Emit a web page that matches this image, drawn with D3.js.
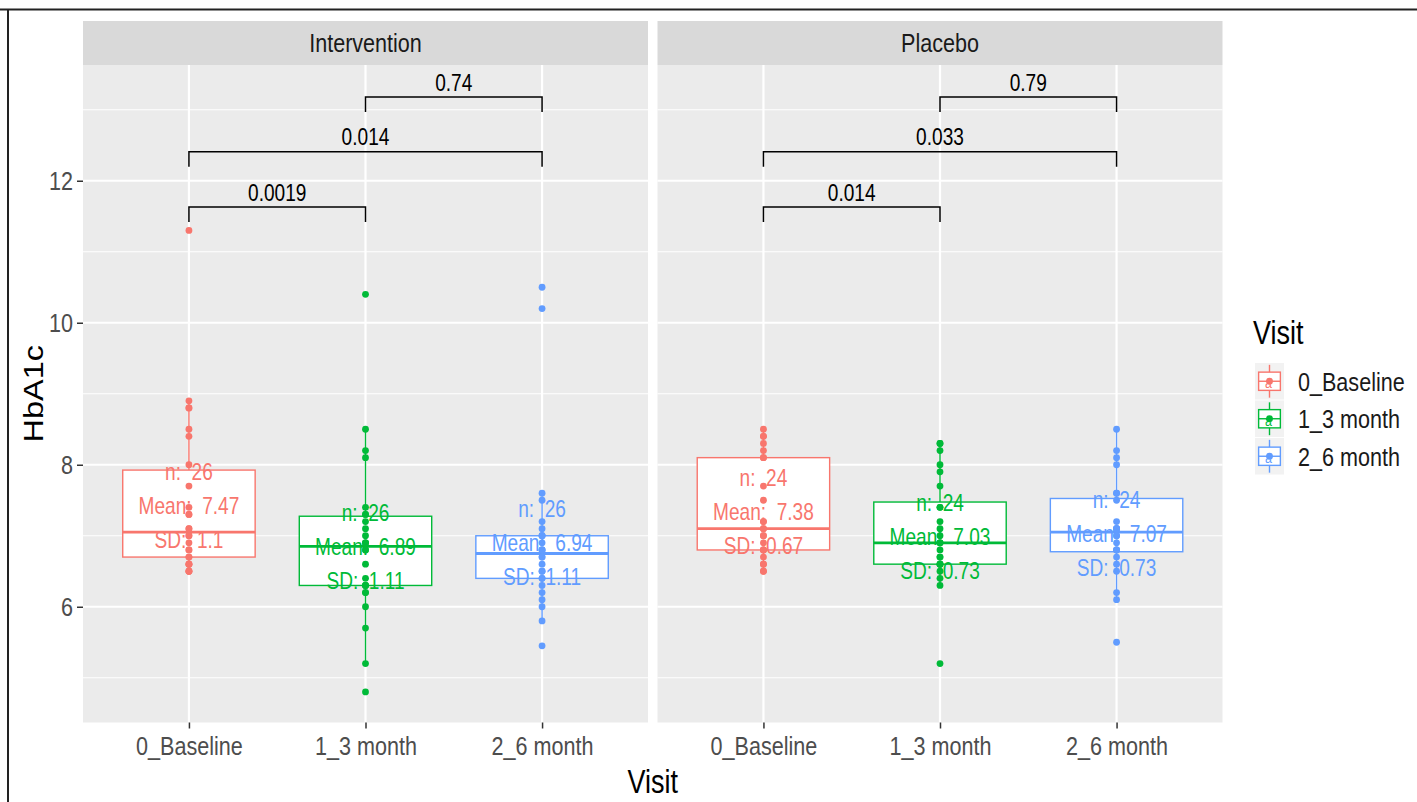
<!DOCTYPE html>
<html>
<head>
<meta charset="utf-8">
<script src="https://cdn.jsdelivr.net/npm/d3@7"></script>
<style>
  body { margin: 0; background: #fff; }
  text { font-family: 'Liberation Sans', Arial, sans-serif; }
</style>
</head>
<body>
<svg id="chart" width="1417" height="802"></svg>
<script>
// Data
const groups = ["Intervention", "Placebo"];
const visits = ["0_Baseline", "1_3 month", "2_6 month"];
const visitColors = ["#F8766D", "#00BA38", "#619CFF"];

const intBaseline = [11.3, 8.9, 8.8, 8.8, 8.5, 8.4, 8.0, 7.7, 7.4, 7.3, 7.3, 7.1, 7.1, 7.0, 7.0, 6.9, 6.8, 6.8, 6.7, 6.7, 6.6, 6.6, 6.6, 6.5, 6.5, 6.5];
const int3month  = [10.4, 8.5, 8.2, 8.1, 7.4, 7.3, 7.3, 7.2, 7.1, 7.0, 6.9, 6.9, 6.9, 6.8, 6.8, 6.6, 6.4, 6.3, 6.3, 6.3, 6.2, 6.2, 6.0, 5.7, 5.2, 4.8];
const int6month  = [10.5, 10.2, 7.6, 7.5, 7.2, 7.1, 7.0, 7.0, 7.0, 6.9, 6.8, 6.8, 6.8, 6.7, 6.7, 6.6, 6.5, 6.5, 6.4, 6.4, 6.3, 6.2, 6.1, 6.0, 5.8, 5.45];
const plaBaseline = [8.5, 8.4, 8.4, 8.3, 8.2, 8.1, 8.1, 7.7, 7.5, 7.2, 7.2, 7.1, 7.1, 7.0, 7.0, 6.9, 6.8, 6.8, 6.8, 6.7, 6.6, 6.6, 6.5, 6.5];
const pla3month  = [8.3, 8.3, 8.2, 8.0, 7.9, 7.7, 7.4, 7.4, 7.2, 7.1, 7.0, 6.9, 6.9, 6.9, 6.8, 6.7, 6.7, 6.6, 6.6, 6.6, 6.5, 6.4, 6.3, 5.2];
const pla6month  = [8.5, 8.2, 8.1, 8.0, 7.6, 7.6, 7.5, 7.2, 7.1, 7.1, 7.1, 7.1, 7.0, 7.0, 6.9, 6.8, 6.8, 6.8, 6.7, 6.6, 6.5, 6.2, 6.1, 5.5];

const nLabels    = [["26", "26", "26"], ["24", "24", "24"]];
const meanLabels = [["7.47", "6.89", "6.94"], ["7.38", "7.03", "7.07"]];
const sdLabels   = [["1.1", "1.11", "1.11"], ["0.67", "0.73", "0.73"]];

// comparison brackets (same layout in both panels)
const bracketFrom = [0, 0, 1];
const bracketTo   = [1, 2, 2];
const bracketY    = [11.63, 12.41, 13.18];
const pIntervention = ["0.0019", "0.014", "0.74"];
const pPlacebo      = ["0.014", "0.033", "0.79"];

const seriesByGroup = [[intBaseline, int3month, int6month], [plaBaseline, pla3month, pla6month]];
const pByGroup = [pIntervention, pPlacebo];

// Layout
const SX = 0.83;               // the reference text is horizontally condensed
const panelX = [83, 657.5];
const panelW = 565;
const panelTop = 65, panelBottom = 722.5, stripTop = 21;

const svg = d3.select("#chart");
svg.append("rect").attr("width", 1417).attr("height", 802).attr("fill", "#fff");

// frame lines of the screenshot
svg.append("line").attr("x1", 0).attr("x2", 1417).attr("y1", 9.5).attr("y2", 9.5)
  .attr("stroke", "#222").attr("stroke-width", 2);
svg.append("line").attr("x1", 8).attr("x2", 8).attr("y1", 9).attr("y2", 802)
  .attr("stroke", "#222").attr("stroke-width", 2);

const y = d3.scaleLinear().domain([4.37, 13.63]).range([panelBottom, panelTop]);
const majorY = y.ticks(5);
const minorY = y.ticks(10).filter(t => !majorY.includes(t));
const color = d3.scaleOrdinal().domain(visits).range(visitColors);

// helper for condensed text
function squeezedText(parent, x, yy, str, size, fill, anchor) {
  return parent.append("text")
    .attr("transform", `translate(${x},${yy}) scale(${SX},1)`)
    .attr("text-anchor", anchor || "middle")
    .attr("font-size", size)
    .attr("fill", fill)
    .style("white-space", "pre")
    .text(str);
}

function boxStats(vals) {
  const s = vals.slice().sort(d3.ascending);
  const q1 = d3.quantile(s, 0.25), med = d3.quantile(s, 0.5), q3 = d3.quantile(s, 0.75);
  const iqr = q3 - q1;
  const lo = d3.min(s.filter(v => v >= q1 - 1.5 * iqr - 1e-9));
  const hi = d3.max(s.filter(v => v <= q3 + 1.5 * iqr + 1e-9));
  return {q1, med, q3, lo, hi};
}

groups.forEach((grp, gi) => {
  const px = panelX[gi];
  const x = d3.scalePoint().domain(visits).range([px, px + panelW]).padding(0.6);
  const boxW = x.step() * 0.75;
  const g = svg.append("g");

  // panel background + grid
  g.append("rect").attr("x", px).attr("y", panelTop).attr("width", panelW)
    .attr("height", panelBottom - panelTop).attr("fill", "#EBEBEB");
  g.selectAll(".minor").data(minorY).enter().append("line")
    .attr("x1", px).attr("x2", px + panelW).attr("y1", d => y(d)).attr("y2", d => y(d))
    .attr("stroke", "#fff").attr("stroke-width", 1.1);
  g.selectAll(".major").data(majorY).enter().append("line")
    .attr("x1", px).attr("x2", px + panelW).attr("y1", d => y(d)).attr("y2", d => y(d))
    .attr("stroke", "#fff").attr("stroke-width", 2.2);
  g.selectAll(".vgrid").data(visits).enter().append("line")
    .attr("x1", d => x(d)).attr("x2", d => x(d)).attr("y1", panelTop).attr("y2", panelBottom)
    .attr("stroke", "#fff").attr("stroke-width", 2.2);

  // strip
  g.append("rect").attr("x", px).attr("y", stripTop).attr("width", panelW)
    .attr("height", panelTop - stripTop).attr("fill", "#D9D9D9");
  squeezedText(g, px + panelW / 2, (stripTop + panelTop) / 2 + 0.358 * 26, grp, 26, "#1A1A1A");

  // boxplots
  visits.forEach((v, vi) => {
    const vals = seriesByGroup[gi][vi];
    const st = boxStats(vals);
    const cx = x(v), col = color(v);
    g.append("line").attr("x1", cx).attr("x2", cx).attr("y1", y(st.q3)).attr("y2", y(st.hi))
      .attr("stroke", col).attr("stroke-width", 1.4);
    g.append("line").attr("x1", cx).attr("x2", cx).attr("y1", y(st.q1)).attr("y2", y(st.lo))
      .attr("stroke", col).attr("stroke-width", 1.4);
    g.append("rect").attr("x", cx - boxW / 2).attr("width", boxW)
      .attr("y", y(st.q3)).attr("height", y(st.q1) - y(st.q3))
      .attr("fill", "#fff").attr("stroke", col).attr("stroke-width", 1.4);
    g.append("line").attr("x1", cx - boxW / 2).attr("x2", cx + boxW / 2)
      .attr("y1", y(st.med)).attr("y2", y(st.med))
      .attr("stroke", col).attr("stroke-width", 2.8);
  });

  // points
  visits.forEach((v, vi) => {
    g.selectAll(null).data(seriesByGroup[gi][vi]).enter().append("circle")
      .attr("cx", x(v)).attr("cy", d => y(d)).attr("r", 3.4).attr("fill", color(v));
  });

  // n / mean / sd labels
  visits.forEach((v, vi) => {
    const mid = y(+meanLabels[gi][vi]) + 3 + 0.358 * 23;
    squeezedText(g, x(v), mid - 34, "n:  " + nLabels[gi][vi], 23, color(v));
    squeezedText(g, x(v), mid, "Mean:  " + meanLabels[gi][vi], 23, color(v));
    squeezedText(g, x(v), mid + 34, "SD:  " + sdLabels[gi][vi], 23, color(v));
  });

  // brackets with p-values
  bracketY.forEach((b, bi) => {
    const x1 = x(visits[bracketFrom[bi]]), x2 = x(visits[bracketTo[bi]]);
    g.append("path")
      .attr("d", `M${x1},${y(b) + 15}V${y(b)}H${x2}V${y(b) + 15}`)
      .attr("fill", "none").attr("stroke", "#000").attr("stroke-width", 1.5);
    squeezedText(g, (x1 + x2) / 2, y(b) - 6.4, pByGroup[gi][bi], 23, "#000");
  });

  // x axis
  const xAxis = g.append("g").attr("transform", `translate(0,${panelBottom})`)
    .call(d3.axisBottom(x).tickSize(6).tickPadding(8));
  xAxis.select(".domain").remove();
  xAxis.selectAll("line").attr("stroke", "#333").attr("stroke-width", 1.5);
  xAxis.selectAll("text").attr("font-size", 26).attr("fill", "#4D4D4D")
    .attr("font-family", null).attr("transform", `scale(${SX},1)`);
});

// y axis
const yAxis = svg.append("g").attr("transform", `translate(${panelX[0]},0)`)
  .call(d3.axisLeft(y).tickValues(majorY).tickSize(6).tickPadding(4));
yAxis.select(".domain").remove();
yAxis.selectAll("line").attr("stroke", "#333").attr("stroke-width", 1.5);
yAxis.selectAll("text").attr("font-size", 26).attr("fill", "#4D4D4D")
  .attr("font-family", null).attr("x", -10 / SX).attr("transform", `scale(${SX},1)`);

// axis titles
squeezedText(svg, (panelX[0] + panelX[1] + panelW) / 2, 793, "Visit", 32.5, "#000");
svg.append("text")
  .attr("transform", `translate(43,${(panelTop + panelBottom) / 2}) rotate(-90) scale(1,${SX})`)
  .attr("text-anchor", "middle").attr("font-size", 32.5).attr("fill", "#000")
  .text("HbA1c");

// legend
squeezedText(svg, 1253, 344, "Visit", 32.5, "#000", "start");
const keyX = 1255, keyY = 363, keyW = 29, keyH = 36.5, keyStep = 37.5;
visits.forEach((v, i) => {
  const ky = keyY + i * keyStep, col = color(v);
  const lg = svg.append("g");
  lg.append("rect").attr("x", keyX).attr("y", ky).attr("width", keyW).attr("height", keyH)
    .attr("fill", "#F2F2F2");
  const cx = keyX + keyW / 2;
  lg.append("line").attr("x1", cx).attr("x2", cx).attr("y1", ky + keyH * 0.05).attr("y2", ky + keyH * 0.95)
    .attr("stroke", col).attr("stroke-width", 1.4);
  lg.append("rect").attr("x", keyX + keyW * 0.125).attr("width", keyW * 0.75)
    .attr("y", ky + keyH * 0.25).attr("height", keyH * 0.5)
    .attr("fill", "#fff").attr("stroke", col).attr("stroke-width", 1.4);
  lg.append("line").attr("x1", keyX + keyW * 0.125).attr("x2", keyX + keyW * 0.875)
    .attr("y1", ky + keyH / 2).attr("y2", ky + keyH / 2).attr("stroke", col).attr("stroke-width", 1.4);
  lg.append("circle").attr("cx", cx).attr("cy", ky + keyH / 2).attr("r", 3.4).attr("fill", col);
  squeezedText(lg, cx - 1, ky + keyH / 2 + 7, "a", 15, col);
  squeezedText(svg, 1298, ky + keyH / 2 + 0.358 * 26, v, 26, "#1A1A1A", "start");
});
</script>
</body>
</html>
